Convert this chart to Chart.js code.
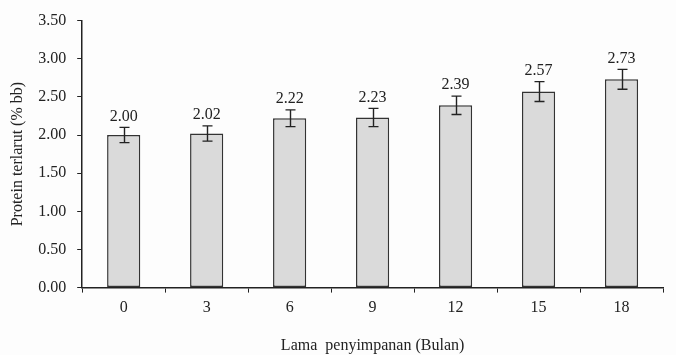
<!DOCTYPE html>
<html>
<head>
<meta charset="utf-8">
<script src="https://cdn.jsdelivr.net/npm/chart.js@4/dist/chart.umd.min.js"></script>
<style>
  html, body { margin: 0; padding: 0; background: #fdfdfd; }
  #wrap { width: 676px; height: 355px; position: relative; }
</style>
</head>
<body>
<div id="wrap"><canvas id="c"></canvas></div>
<script>
// Storage time (months) and soluble protein content (% bb)
const months = ['0', '3', '6', '9', '12', '15', '18'];
const protein = [2.00, 2.02, 2.22, 2.23, 2.39, 2.57, 2.73];
const stdErr = [0.10, 0.10, 0.11, 0.12, 0.12, 0.13, 0.13];
const yTicks = [0, 0.5, 1, 1.5, 2, 2.5, 3, 3.5];

const FONT = "'Liberation Serif', 'Times New Roman', serif";
const INK = '#222';

// Error whiskers and value labels above each bar
const errorBars = {
  id: 'errorBars',
  afterDatasetsDraw(chart) {
    const { ctx, scales: { y } } = chart;
    const meta = chart.getDatasetMeta(0);
    ctx.save();
    ctx.strokeStyle = INK;
    ctx.lineWidth = 1.4;
    ctx.fillStyle = INK;
    ctx.font = '16px ' + FONT;
    ctx.textAlign = 'center';
    ctx.textBaseline = 'bottom';
    meta.data.forEach((bar, i) => {
      const x = Math.round(bar.x) + 0.5;
      const top = y.getPixelForValue(protein[i] + stdErr[i]);
      const bot = y.getPixelForValue(protein[i] - stdErr[i]);
      const cap = 5;
      ctx.beginPath();
      ctx.moveTo(x, top); ctx.lineTo(x, bot);
      ctx.moveTo(x - cap, top); ctx.lineTo(x + cap, top);
      ctx.moveTo(x - cap, bot); ctx.lineTo(x + cap, bot);
      ctx.stroke();
      ctx.fillText(protein[i].toFixed(2), bar.x, top - 3);
    });
    ctx.restore();
  }
};

new Chart(document.getElementById('c'), {
  type: 'bar',
  data: {
    labels: months,
    datasets: [{
      data: protein,
      backgroundColor: '#dadada',
      borderColor: '#333',
      borderWidth: 1.5,
      borderSkipped: false,
      categoryPercentage: 1,
      barPercentage: 0.4
    }]
  },
  options: {
    responsive: true,
    maintainAspectRatio: false,
    animation: false,
    devicePixelRatio: 1,
    layout: { padding: { top: 11, right: 13, left: 8, bottom: 0 } },
    plugins: { legend: { display: false }, tooltip: { enabled: false } },
    scales: {
      x: {
        offset: true,
        grid: { offset: true, drawOnChartArea: false, drawTicks: true, tickLength: 5, color: INK },
        border: { color: INK, width: 1.5 },
        ticks: { color: INK, font: { family: FONT, size: 16 }, padding: 6 },
        title: { display: true, text: 'Lama  penyimpanan (Bulan)', color: INK, font: { family: FONT, size: 16 }, padding: { top: 12, bottom: 0 } }
      },
      y: {
        min: 0,
        max: 3.5,
        afterBuildTicks(axis) { axis.ticks = yTicks.map(v => ({ value: v })); },
        grid: { drawOnChartArea: false, drawTicks: true, tickLength: 5, color: INK },
        border: { color: INK, width: 1.5 },
        ticks: { color: INK, font: { family: FONT, size: 16 }, padding: 11, callback: v => Number(v).toFixed(2) },
        title: { display: true, text: 'Protein terlarut (% bb)', color: INK, font: { family: FONT, size: 16 }, padding: { top: 0, bottom: 0 } }
      }
    }
  },
  plugins: [errorBars]
});
</script>
</body>
</html>
